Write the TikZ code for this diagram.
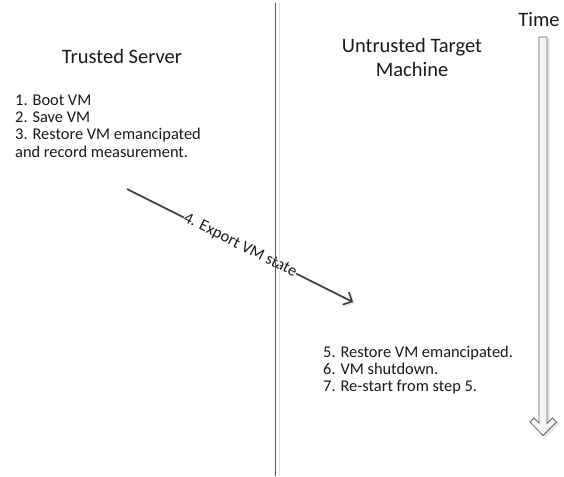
\documentclass[tikz,border=0pt]{standalone}
\usepackage{fontspec}
\setmainfont{Carlito}
\usetikzlibrary{arrows.meta}
\begin{document}
\begin{tikzpicture}[x=1pt,y=-1pt,
  title/.style={font=\fontsize{20.5}{24}\selectfont, align=center, text=black!90, inner sep=0pt},
  steps/.style={font=\fontsize{16.4}{17.3}\selectfont, align=left, text=black!90, inner sep=0pt, anchor=base west},
  divider/.style={line width=1.6pt, draw=black!65},
  softshadow/.style={line width=1.2pt, draw=black!10},
  flow/.style={line width=1.6pt, draw=black!75, -{Straight Barb[length=7pt,width=14pt,line width=1.6pt]}},
  flowshadow/.style={line width=1.6pt, draw=black!10, -{Straight Barb[length=7pt,width=14pt,line width=1.6pt]}},
  timearrow/.style={draw=black!60, line width=0.8pt, fill=black!4, line join=miter},
]
\useasboundingbox (0,0) rectangle (564,476);

% titles (base anchor of a multi-line node = last line)
\node[title, anchor=base] (trusted) at (122,64) {Trusted Server};
\node[title, anchor=base] (untrusted) at (412,77) {Untrusted Target\\Machine};
\node[title, anchor=base] (time) at (539,27) {Time};

% steps
\node[steps] (left) at (15,157) {1. Boot VM\\2. Save VM\\3. Restore VM emancipated\\and record measurement.};
\node[steps] (right) at (323,391.6) {5. Restore VM emancipated.\\6. VM shutdown.\\7. Re-start from step 5.};

% export arrow
\coordinate (ex1) at (127,189);
\coordinate (ex2) at (353,302);
\coordinate (exs1) at (128.5,190.5);
\coordinate (exs2) at (354.5,303.5);
\draw[flowshadow] (exs1) -- (exs2);
\draw[flow] (ex1) -- node[sloped, fill=white, inner sep=0.5pt, font=\fontsize{16.4}{17.3}\selectfont, text=black!90] (exlabel) {4. Export VM state} (ex2);

% divider (drawn over the label, as in the reference)
\coordinate (vtop) at (275.5,3);
\coordinate (vbot) at (275.5,476);
\coordinate (vstop) at (279.5,3);
\coordinate (vsbot) at (279.5,476);
\draw[softshadow] (vstop) -- (vsbot);
\draw[divider] (vtop) -- (vbot);

% time arrow
\fill[black!10, shift={(2.5,2)}] (539,37) -- (539,423) -- (534,418) -- (530,422) -- (543,435.5) -- (556.5,422) -- (552.5,418) -- (547,423.5) -- (547,37) -- cycle;
\path[timearrow] (539,37) -- (539,423) -- (534,418) -- (530,422) -- (543,435.5) -- (556.5,422) -- (552.5,418) -- (547,423.5) -- (547,37) -- cycle;
\end{tikzpicture}
\end{document}
